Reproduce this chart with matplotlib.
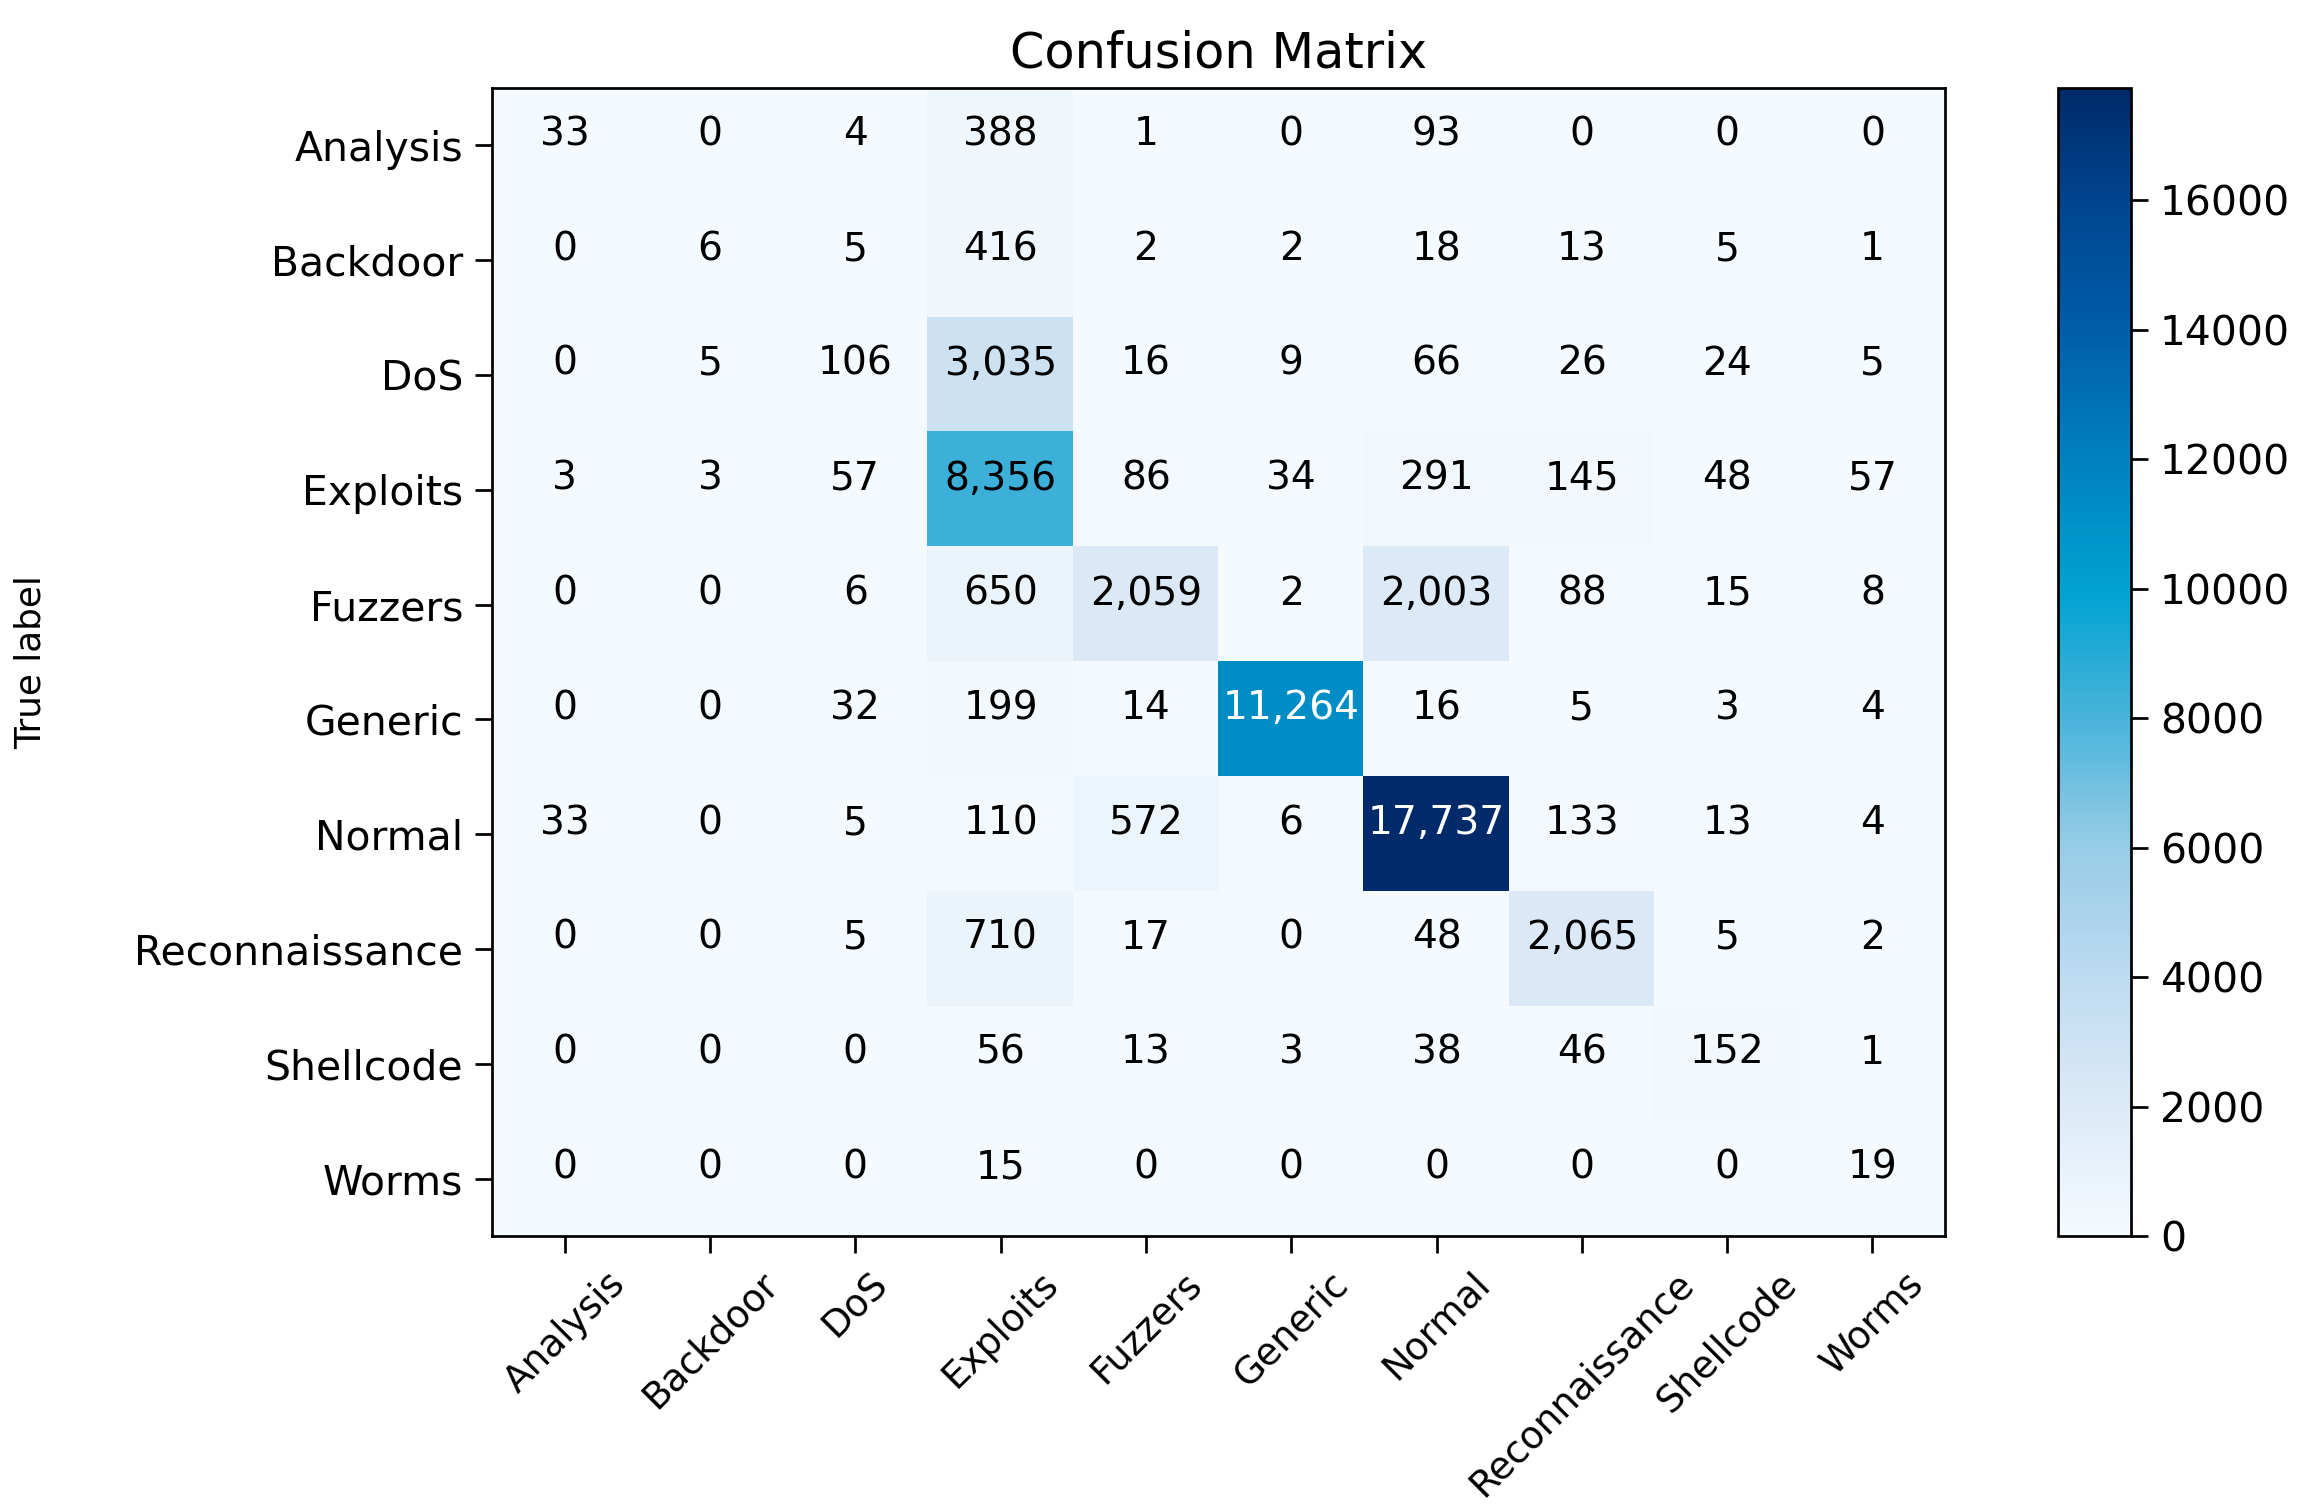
"""
Confusion matrix plot for the multi-class attack classifier.
"""

import numpy as np
import matplotlib
matplotlib.use("Agg")
import matplotlib.pyplot as plt
from matplotlib.colors import LinearSegmentedColormap

class_names = ["Analysis", "Backdoor", "DoS", "Exploits", "Fuzzers",
               "Generic", "Normal", "Reconnaissance", "Shellcode", "Worms"]

# rows = true label, columns = predicted label
row_analysis = [33, 0, 4, 388, 1, 0, 93, 0, 0, 0]
row_backdoor = [0, 6, 5, 416, 2, 2, 18, 13, 5, 1]
row_dos = [0, 5, 106, 3035, 16, 9, 66, 26, 24, 5]
row_exploits = [3, 3, 57, 8356, 86, 34, 291, 145, 48, 57]
row_fuzzers = [0, 0, 6, 650, 2059, 2, 2003, 88, 15, 8]
row_generic = [0, 0, 32, 199, 14, 11264, 16, 5, 3, 4]
row_normal = [33, 0, 5, 110, 572, 6, 17737, 133, 13, 4]
row_recon = [0, 0, 5, 710, 17, 0, 48, 2065, 5, 2]
row_shellcode = [0, 0, 0, 56, 13, 3, 38, 46, 152, 1]
row_worms = [0, 0, 0, 15, 0, 0, 0, 0, 0, 19]

colorbar_ticks = [0, 2000, 4000, 6000, 8000, 10000, 12000, 14000, 16000]

# saturated blue ramp (the plain Blues map is too grey in the middle)
cmap_stops = [0.0, 0.11, 0.23, 0.34, 0.45, 0.56, 0.68, 0.79, 0.9, 1.0]
cmap_colors = ["#f5fafe", "#dceaf7", "#bcdaf0", "#96cce6", "#4ab4db",
               "#00a3d2", "#0080be", "#005da8", "#00458f", "#002a6a"]

cm = np.array([row_analysis, row_backdoor, row_dos, row_exploits, row_fuzzers,
               row_generic, row_normal, row_recon, row_shellcode, row_worms])

cmap = LinearSegmentedColormap.from_list("blues_sat", list(zip(cmap_stops, cmap_colors)))

DPI = 245
fig = plt.figure(figsize=(2318 / DPI, 1506 / DPI), dpi=DPI)
ax = fig.add_axes([0.2123, 0.1793, 0.8391 - 0.2123, 0.9416 - 0.1793])
cax = fig.add_axes([0.8878, 0.1793, 0.9193 - 0.8878, 0.9416 - 0.1793])

im = ax.imshow(cm, interpolation='nearest', cmap=cmap, aspect='auto')
ax.set_title('Confusion Matrix', fontsize=14.5)
cbar = fig.colorbar(im, cax=cax)
cbar.set_ticks(colorbar_ticks)
cbar.ax.tick_params(labelsize=12, length=5)

tick_marks = np.arange(len(class_names))
ax.set_xticks(tick_marks)
ax.set_xticklabels(class_names, rotation=45, fontsize=11)
ax.set_yticks(tick_marks)
ax.set_yticklabels(class_names, fontsize=12)
ax.tick_params(length=5)

# cell annotations, white on dark cells
thresh = cm.max() / 2.
for i in range(cm.shape[0]):
    for j in range(cm.shape[1]):
        ax.text(j, i, "{:,}".format(cm[i, j]), horizontalalignment="center",
                fontsize=11.5, color="white" if cm[i, j] > thresh else "black")

ax.set_ylabel('True label', fontsize=10.5)
ax.yaxis.set_label_coords(-0.306, 0.5)

plt.savefig("out.png", dpi=DPI)
